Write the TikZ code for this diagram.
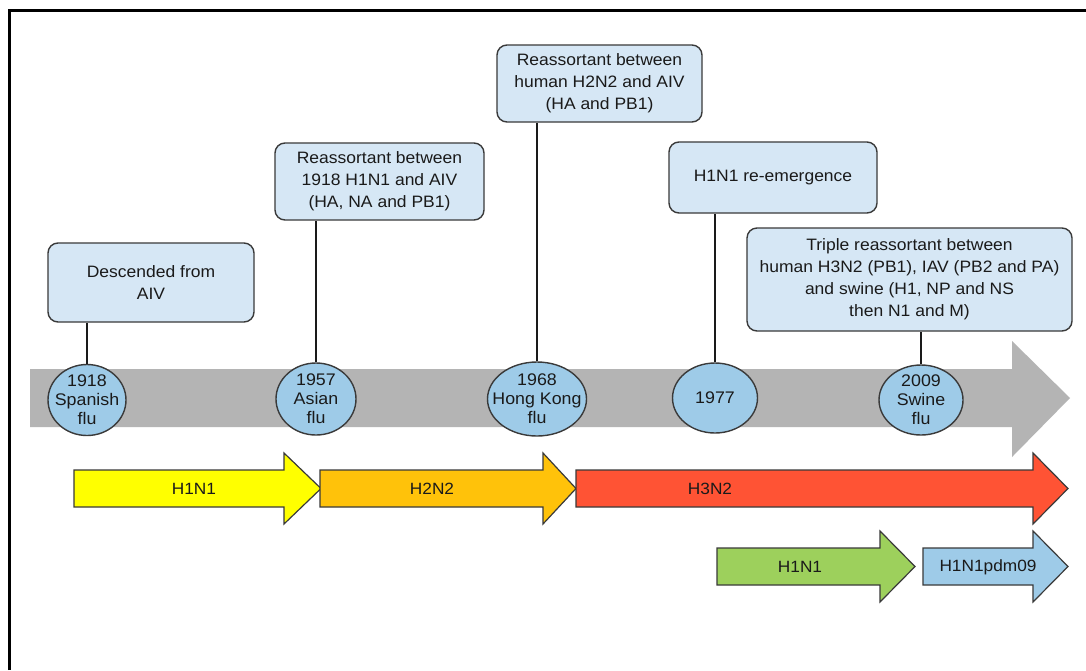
\documentclass[tikz,border=0pt]{standalone}
\usepackage{fontspec}
\setmainfont{Liberation Sans}[FakeStretch=1.06]
\usetikzlibrary{shapes.geometric}

\definecolor{boxfill}{HTML}{D6E7F5}
\definecolor{ovalfill}{HTML}{9ECBE8}
\definecolor{edgecol}{HTML}{3A3A3A}
\definecolor{inkcol}{HTML}{1A1A1A}
\definecolor{timegray}{HTML}{B4B4B4}
\definecolor{h1yellow}{HTML}{FFFF00}
\definecolor{h2orange}{HTML}{FFC20A}
\definecolor{h3red}{HTML}{FF5334}
\definecolor{h1green}{HTML}{9DD05C}
\definecolor{pdmblue}{HTML}{9ECBE8}

% one lineage arrow: colour, left end, head base, tip, centre line
\newcommand{\lineagearrow}[5]{%
  \draw[arrowline, fill=#1]
    (#2,#5-18.5) -- (#3,#5-18.5) -- (#3,#5-35.5) -- (#4,#5)
    -- (#3,#5+35.5) -- (#3,#5+18.5) -- (#2,#5+18.5) -- cycle;}

\begin{document}
\begin{tikzpicture}[x=1pt,y=-1pt,
  eventbox/.style={draw=edgecol, line width=1.4pt, fill=boxfill, rounded corners=10pt,
    align=center, inner sep=0pt, text=inkcol,
    font=\fontsize{16.5}{22}\selectfont},
  yearoval/.style={ellipse, draw=edgecol, line width=1.4pt, fill=ovalfill, inner sep=0pt},
  ovaltext/.style={align=center, inner sep=0pt, text=inkcol,
    font=\fontsize{16.8}{19}\selectfont},
  stem/.style={draw=inkcol, line width=1.8pt},
  arrowline/.style={draw=edgecol, line width=1.2pt, line join=miter},
  lbl/.style={inner sep=0pt, text=inkcol, font=\fontsize{16.3}{18}\selectfont}]

\useasboundingbox (0,0) rectangle (1086,670);
\fill[white] (0,0) rectangle (1086,670);
\draw[line width=3pt] (9,670) -- (9,10) -- (1086,10);

% time axis
\fill[timegray] (30,369) -- (1012,369) -- (1012,341) -- (1070,398)
  -- (1012,457) -- (1012,427) -- (30,427) -- cycle;

% event descriptions
\node[eventbox, minimum width=206pt, minimum height=79pt] (b1918) at (151,282.5)
  {Descended from\\AIV};
\node[eventbox, minimum width=209pt, minimum height=77pt] (b1957) at (379.5,181.5)
  {Reassortant between\\1918 H1N1 and AIV\\(HA, NA and PB1)};
\node[eventbox, minimum width=205pt, minimum height=77pt] (b1968) at (599.5,83.5)
  {Reassortant between\\human H2N2 and AIV\\(HA and PB1)};
\node[eventbox, minimum width=208pt, minimum height=71pt] (b1977) at (773,177.5)
  {H1N1 re-emergence};
\node[eventbox, minimum width=325pt, minimum height=103pt] (b2009) at (909.5,279.5)
  {Triple reassortant between\\human H3N2 (PB1), IAV (PB2 and PA)\\and swine (H1, NP and NS\\then N1 and M)};

% years on the axis
\node[yearoval, minimum width=78pt, minimum height=71pt,
  label={[ovaltext, name=t1918]center:{1918\\Spanish\\flu}}] (e1918) at (87,400) {};
\node[yearoval, minimum width=80pt, minimum height=72pt,
  label={[ovaltext, name=t1957]center:{1957\\Asian\\flu}}] (e1957) at (316,399) {};
\node[yearoval, minimum width=99pt, minimum height=74pt,
  label={[ovaltext, name=t1968]center:{1968\\Hong Kong\\flu}}] (e1968) at (537,399) {};
\node[yearoval, minimum width=85pt, minimum height=70pt,
  label={[ovaltext, name=t1977]center:{1977}}] (e1977) at (715,398) {};
\node[yearoval, minimum width=84pt, minimum height=70pt,
  label={[ovaltext, name=t2009]center:{2009\\Swine\\flu}}] (e2009) at (921,400) {};

% stems from descriptions to years
\foreach \y in {1918,1957,1968,1977,2009}
  \draw[stem] (e\y.north) -- (e\y.north |- b\y.south);

% subtype lineages
\lineagearrow{h1yellow}{74}{284}{321}{488.5}
\lineagearrow{h2orange}{320}{543}{576}{488.5}
\lineagearrow{h3red}{576}{1033}{1068}{488.5}
\lineagearrow{h1green}{717}{880}{915}{566.5}
\lineagearrow{pdmblue}{923}{1033}{1068}{566.5}

\node[lbl] (l1) at (194,489) {H1N1};
\node[lbl] (l2) at (432,489) {H2N2};
\node[lbl] (l3) at (710,489) {H3N2};
\node[lbl] (l4) at (800,567) {H1N1};
\node[lbl] (l5) at (988,567) {H1N1pdm09};
\end{tikzpicture}
\end{document}
